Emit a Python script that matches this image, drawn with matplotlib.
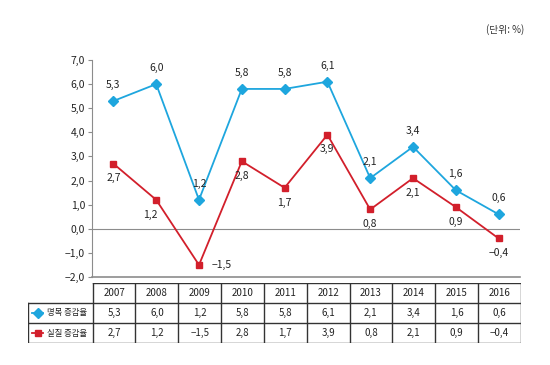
import matplotlib
matplotlib.use('Agg')
import matplotlib.pyplot as plt

plt.rcParams['font.family'] = ['Noto Sans CJK KR', 'DejaVu Sans']

years = ['2007', '2008', '2009', '2010', '2011', '2012', '2013', '2014', '2015', '2016']
nominal = [5.3, 6.0, 1.2, 5.8, 5.8, 6.1, 2.1, 3.4, 1.6, 0.6]
real = [2.7, 1.2, -1.5, 2.8, 1.7, 3.9, 0.8, 2.1, 0.9, -0.4]
series_names = ['명목 증감율', '실질 증감율']
yticks = [-2, -1, 0, 1, 2, 3, 4, 5, 6, 7]

BLUE = '#1ea6de'
RED = '#d21f2b'
GRAY = '#8c8c8c'
LINE = '#333333'


def fmt(v):
    s = f'{abs(v):.1f}'.replace('.', ',')
    return ('\u2212' + s) if v < 0 else s


fig = plt.figure(figsize=(5.5, 3.65), dpi=100)
W, H = 550, 365

# main chart area
ax = fig.add_axes([92 / W, 1 - 277 / H, (520.7 - 92.7) / W, (277 - 60) / H])
x = list(range(len(years)))
ax.plot(x, nominal, color=BLUE, lw=1.3, marker='D', ms=5, zorder=3)
ax.plot(x, real, color=RED, lw=1.3, marker='s', ms=5, zorder=3)
ax.axhline(0, color=GRAY, lw=0.8, zorder=1)
ax.set_xlim(-0.5, len(years) - 0.5)
ax.set_ylim(-2, 7)
ax.set_xticks([])
ax.set_yticks(yticks)
ax.set_yticklabels([fmt(v) for v in yticks], fontsize=7.5, color='#222222')
for s in ['top', 'right']:
    ax.spines[s].set_visible(False)
ax.spines['left'].set_color(GRAY)
ax.spines['bottom'].set_color(GRAY)
ax.spines['bottom'].set_linewidth(1.2)
ax.tick_params(axis='y', length=3, color=GRAY, pad=2)
ax.patch.set_alpha(0)

# value labels
for i, v in enumerate(nominal):
    ax.annotate(fmt(v), (i, v), xytext=(0, 8), textcoords='offset points',
                ha='center', va='bottom', fontsize=7.5, color='#222222')
real_offsets = {1: (-4, -7), 2: (16, 0)}
for i, v in enumerate(real):
    dx, dy = real_offsets.get(i, (0, -7))
    va = 'center' if dy == 0 else 'top'
    ax.annotate(fmt(v), (i, v), xytext=(dx, dy), textcoords='offset points',
                ha='center', va=va, fontsize=7.5, color='#222222')

fig.text(505 / W, 1 - 30 / H, '(단위: %)', ha='center', va='center',
         fontsize=7, color='#333333')

# table below
col_px = (520.7 - 92.7) / len(years)
lab_w = (92.7 - 28) / col_px
tab = fig.add_axes([28 / W, 1 - 343.3 / H, (520.7 - 28) / W, (343.3 - 282.7) / H])
x0 = -0.5 - lab_w
n = len(years)
tab.set_xlim(x0, n - 0.5)
tab.set_ylim(0, 3)
tab.axis('off')
# horizontal lines
tab.plot([-0.5, n - 0.5], [3, 3], color=LINE, lw=1)
for yy in [2, 1, 0]:
    tab.plot([x0, n - 0.5], [yy, yy], color=LINE, lw=1)
# vertical lines
tab.plot([x0, x0], [0, 2], color=LINE, lw=1)
for k in range(n + 1):
    tab.plot([k - 0.5, k - 0.5], [0, 3], color=LINE, lw=1)
for i, yr in enumerate(years):
    tab.text(i, 2.5, yr, ha='center', va='center', fontsize=7, color='#222222')
    tab.text(i, 1.5, fmt(nominal[i]), ha='center', va='center', fontsize=7, color='#222222')
    tab.text(i, 0.5, fmt(real[i]), ha='center', va='center', fontsize=7, color='#222222')
for row, name, col, mk in zip([1.5, 0.5], series_names, [BLUE, RED], ['D', 's']):
    tab.plot([x0 + 4 / col_px, x0 + 15 / col_px], [row, row], color=col, lw=1.3)
    tab.plot([x0 + 10 / col_px], [row], marker=mk, color=col, ms=5)
    tab.text(x0 + 19 / col_px, row, name, ha='left', va='center', fontsize=6, color='#222222')

fig.savefig('out.png', dpi=100, facecolor='white')
